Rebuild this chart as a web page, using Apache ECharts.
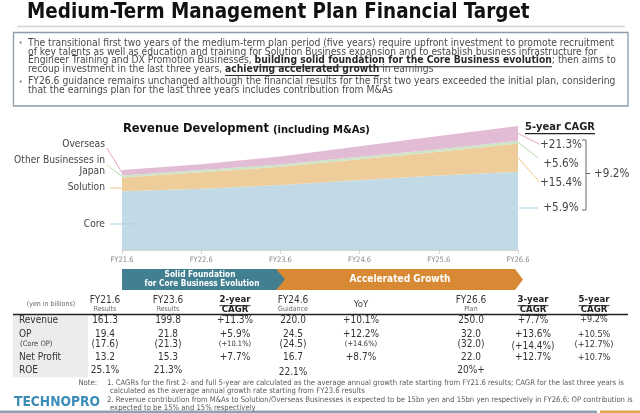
<!DOCTYPE html>
<html><head><meta charset="utf-8">
<script src="https://cdn.jsdelivr.net/npm/echarts@6/dist/echarts.min.js"></script>
<style>html,body{margin:0;padding:0;background:#fff}#c{width:640px;height:413px}</style>
</head><body><div id="c"></div>
<script>
// ---------- data ----------
const categories = ['FY21.6','FY22.6','FY23.6','FY24.6','FY25.6','FY26.6'];
const core       = [118.3,123.5,131.0,141.0,150.0,157.6];
const solution   = [27.8,33.5,37.0,42.0,48.0,57.0];
const otherJapan = [4.2,4.4,4.5,4.8,5.1,5.5];
const overseas   = [11.0,11.3,16.0,21.2,26.9,29.9];
const segmentCagr = ['+5.9%','+15.4%','+5.6%','+21.3%'];
const totalCagr = '+9.2%';

const tableColumns = [['FY21.6','Results'],['FY23.6','Results'],['2-year','CAGR'],['FY24.6','Guidance'],['YoY',''],['FY26.6','Plan'],['3-year','CAGR'],['5-year','CAGR']];
const rowLabels = ['Revenue','OP','(Core OP)','Net Profit','ROE'];
const revenueRow   = ['161.3','199.8','+11.3%','220.0','+10.1%','250.0','+7.7%','+9.2%'];
const opRow        = ['19.4','21.8','+5.9%','24.5','+12.2%','32.0','+13.6%','+10.5%'];
const coreOpRow    = ['(17.6)','(21.3)','(+10.1%)','(24.5)','(+14.6%)','(32.0)','(+14.4%)','(+12.7%)'];
const netProfitRow = ['13.2','15.3','+7.7%','16.7','+8.7%','22.0','+12.7%','+10.7%'];
const roeRow       = ['25.1%','21.3%','','22.1%','','20%+','',''];

// ---------- helpers ----------
const FONT = "'DejaVu Sans Condensed','DejaVu Sans',sans-serif";
const mctx = document.createElement('canvas').getContext('2d');
function mw(t, size, weight){ mctx.font = (weight||'normal')+' '+size+'px '+FONT; return mctx.measureText(t).width; }
function fitSize(t, width, weight){ return 20*width/mw(t,20,weight); }

const layers = [core, solution, otherJapan, overseas];
const layerColors = ['#c2dae6','#efcd9b','#cde5c6','#e2bbd5'];
const leaderColors = ['#a9cde0','#f2c58c','#b5dba9','#e7a6cb'];

const chart = echarts.init(document.getElementById('c'), null, {renderer:'canvas'});
chart.setOption({
  animation:false,
  grid:{left:122, right:122, top:126, bottom:163},
  xAxis:{type:'category', data:categories, boundaryGap:false,
    axisLine:{lineStyle:{color:'#d4d4d4', width:1}},
    axisTick:{show:true, length:4, lineStyle:{color:'#d4d4d4'}},
    axisLabel:{color:'#8a8a8a', fontSize:7.5, fontFamily:FONT, margin:6}},
  yAxis:{type:'value', min:0, max:250, show:false, splitLine:{show:false}},
  series: layers.map((d,i)=>({type:'line', stack:'rev', data:d, symbol:'none', showSymbol:false,
    lineStyle:{width:0}, areaStyle:{color:layerColors[i], opacity:1}, z:2, silent:true}))
});

const G = [];
function T(text, x, y, o){
  o = o||{};
  const size = o.size||10, weight = o.weight||'normal', align = o.align||'left', va = o.va||'middle';
  const color = o.color||'#3a3a3a';
  G.push({type:'text', silent:true, z:20, style:{text:text, x:x, y:y, font:weight+' '+size+'px '+FONT,
    fill:color, align:align, verticalAlign:va, textAlign:align, textVerticalAlign:va}});
  const w = mw(text,size,weight);
  if (o.u){
    const x0 = align==='center' ? x-w/2 : align==='right' ? x-w : x;
    L(x0, y+size*0.6, x0+w, y+size*0.6, color, Math.max(0.9, size/10));
  }
  return w;
}
function L(x1,y1,x2,y2,color,w){
  G.push({type:'line', silent:true, z:15, shape:{x1:x1,y1:y1,x2:x2,y2:y2}, style:{stroke:color, lineWidth:w||1}});
}
function R(x,y,w,h,fill,stroke,lw){
  G.push({type:'rect', silent:true, z:5, shape:{x:x,y:y,width:w,height:h},
    style:{fill:fill||'none', stroke:stroke||'none', lineWidth:lw||0}});
}
function P(points, fill){ G.push({type:'polygon', silent:true, z:6, shape:{points:points}, style:{fill:fill}}); }
function segLine(x, y, segs, size, color){
  let cx = x;
  segs.forEach(s=>{ cx += T(s.t, cx, y, {size:size, weight:s.b?'bold':'normal', u:s.u, color:s.b?'#2a2a2a':color}); });
}

// ---------- title ----------
const titleText = 'Medium-Term Management Plan Financial Target';
T(titleText, 27, 12.5, {size:fitSize(titleText,503,'bold'), weight:'bold', color:'#111'});
R(17, 25.5, 608, 2, '#dcdcdc');

// ---------- text box ----------
R(13.5, 32.5, 614.5, 73.5, '#fff', '#8d9ba8', 1.3);
const para = [
  [{t:'The transitional first two years of the medium-term plan period (five years) require upfront investment to promote recruitment'}],
  [{t:'of key talents as well as education and training for Solution Business expansion and to establish business infrastructure for'}],
  [{t:'Engineer Training and DX Promotion Businesses, '},{t:'building solid foundation for the Core Business evolution',b:1,u:1},{t:'; then aims to'}],
  [{t:'recoup investment in the last three years, '},{t:'achieving accelerated growth',b:1,u:1},{t:' in earnings'}],
  [{t:'FY26.6 guidance remains unchanged although the financial results for the first two years exceeded the initial plan, considering'}],
  [{t:'that the earnings plan for the last three years includes contribution from M&As'}]
];
const pSize = fitSize(para[0][0].t, 587);
const paraY = [43.3, 52, 60.7, 69.3, 81.7, 90.5];
para.forEach((segs,i)=>segLine(28, paraY[i], segs, pSize, '#4a4a4a'));
T('•', 20.5, 43.3, {size:7, color:'#666', align:'center'});
T('•', 20.5, 81.7, {size:7, color:'#666', align:'center'});

// ---------- chart title ----------
const ct1 = 'Revenue Development', ct2 = '(including M&As)';
const w1 = T(ct1, 123, 129, {size:fitSize(ct1,146,'bold'), weight:'bold', color:'#111'});
T(ct2, 123+w1+4, 130, {size:fitSize(ct2,97,'bold'), weight:'bold', color:'#111'});

// ---------- left labels ----------
const lSize = fitSize('Other Businesses in', 91);
T('Overseas', 105, 144, {size:lSize, align:'right', color:'#454545'});
T('Other Businesses in', 105, 160, {size:lSize, align:'right', color:'#454545'});
T('Japan', 105, 171.5, {size:lSize, align:'right', color:'#454545'});
T('Solution', 105, 187.7, {size:lSize, align:'right', color:'#454545'});
T('Core', 105, 224, {size:lSize, align:'right', color:'#454545'});

function cumMid(ci, li){
  let base = 0; for (let k=0;k<li;k++) base += layers[k][ci];
  return chart.convertToPixel({xAxisIndex:0, yAxisIndex:0}, [ci, base + layers[li][ci]/2]);
}
const last = categories.length-1;
let p;
p = cumMid(0,3); L(107,148,p[0],p[1],leaderColors[3],1);
p = cumMid(0,2); L(107,165,p[0],p[1],leaderColors[2],1);
p = cumMid(0,1); L(110,188,p[0],188,leaderColors[1],1);
p = cumMid(0,0); L(110,224,p[0]+12,224,leaderColors[0],1);

// ---------- right labels ----------
const rSize = fitSize('+21.3%', 42);
T('5-year CAGR', 525, 127, {size:fitSize('5-year CAGR',70,'bold'), weight:'bold', u:true, color:'#222'});
const rY = [208, 182.5, 163.5, 144.5];
const rEnd = [[538,208],[540,182.5],[538,158],[540,144.5]];
for (let li=0; li<4; li++){
  T(segmentCagr[li], 561, rY[li], {size:rSize, align:'center', color:'#454545'});
  p = cumMid(last, li);
  if (li===0) L(p[0]+1, rEnd[0][1], rEnd[0][0], rEnd[0][1], leaderColors[0], 1);
  else L(p[0], p[1], rEnd[li][0], rEnd[li][1], leaderColors[li], 1);
}
L(586,140,586,210,'#666',1); L(582,140,586,140,'#666',1); L(582,210,586,210,'#666',1); L(586,173.5,590,173.5,'#666',1);
T(totalCagr, 594, 173.5, {size:rSize, color:'#454545'});

// ---------- arrow band ----------
P([[270,269],[515,269],[523,279.5],[515,290],[270,290]], '#d78a33');
P([[122,269],[276,269],[285,279.5],[276,290],[122,290]], '#427f90');
const a1 = 'Solid Foundation', a2 = 'for Core Business Evolution', a3 = 'Accelerated Growth';
T(a1, 200, 275.3, {size:fitSize(a1,71,'bold'), weight:'bold', align:'center', color:'#fff'});
T(a2, 202, 284, {size:fitSize(a2,115,'bold'), weight:'bold', align:'center', color:'#fff'});
T(a3, 400, 279.5, {size:fitSize(a3,101,'bold'), weight:'bold', align:'center', color:'#fff'});

// ---------- table ----------
const colX = [105,168,235,293,361,471,533,594];
R(13, 315.5, 75, 62, '#ececec');
L(13, 314.5, 628, 314.5, '#222', 1.3);
T('(yen in billions)', 51, 304.5, {size:7, align:'center', color:'#666'});
tableColumns.forEach((c,i)=>{
  if (c[1]==='CAGR'){
    T(c[0], colX[i], 300, {size:9.5, weight:'bold', u:true, align:'center', color:'#222'});
    T(c[1], colX[i], 309.5, {size:9.5, weight:'bold', u:true, align:'center', color:'#222'});
  } else if (c[1]===''){
    T(c[0], colX[i], 304.5, {size:9.5, align:'center', color:'#3a3a3a'});
  } else {
    T(c[0], colX[i], 300, {size:10, align:'center', color:'#3a3a3a'});
    T(c[1], colX[i], 309.5, {size:7, align:'center', color:'#666'});
  }
});
const rowY = [320, 334.5, 344.5, 357.5, 370.5];
rowLabels.forEach((lab,i)=>{
  if (lab==='(Core OP)') T(lab, 20, rowY[i], {size:7.5, color:'#444'});
  else T(lab, 19, rowY[i], {size:10, color:'#333'});
});
const rows = [revenueRow, opRow, coreOpRow, netProfitRow, roeRow];
rows.forEach((row,ri)=>{
  row.forEach((v,ci)=>{
    if (!v) return;
    let size = 10;
    if (ci===7) size = 9;
    if (ri===2 && (ci===2 || ci===4)) size = 7.5;
    let y = rowY[ri];
    if (ri===2 && ci===6) y += 1.5;
    if (ri===4 && ci===3) y += 1.5;
    T(v, colX[ci], y, {size:size, align:'center', color:'#333'});
  });
});

// ---------- notes ----------
const notes = [
  ['1. CAGRs for the first 2- and full 5-year are calculated as the average annual growth rate starting from FY21.6 results; CAGR for the last three years is', 107, 383.3],
  ['calculated as the average annual growth rate starting from FY23.6 results', 110, 391.5],
  ['2. Revenue contribution from M&As to Solution/Overseas Businesses is expected to be 15bn yen and 15bn yen respectively in FY26.6; OP contribution is', 107, 400.5],
  ['expected to be 15% and 15% respectively', 110, 408.5]
];
const nSize = fitSize(notes[0][0], 518);
T('Note:', 97, 383.3, {size:nSize, align:'right', color:'#5a5a5a'});
notes.forEach(n=>T(n[0], n[1], n[2], {size:nSize, color:'#5a5a5a'}));
T('TECHNOPRO', 14, 402, {size:fitSize('TECHNOPRO',86,'bold'), weight:'bold', color:'#3b8cb6'});

// ---------- bottom band ----------
R(0, 410.5, 597, 2.5, '#8ea4b4');
R(600, 410.5, 40, 2.5, '#e6a24f');

chart.setOption({graphic:{elements:G}});
</script></body></html>
